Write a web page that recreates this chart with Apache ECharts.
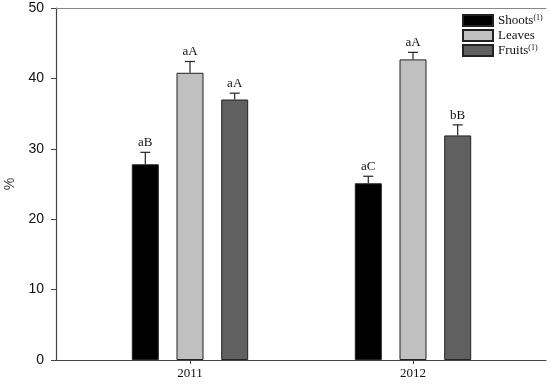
<!DOCTYPE html>
<html>
<head>
<meta charset="utf-8">
<script src="https://cdn.jsdelivr.net/npm/echarts@6/dist/echarts.min.js"></script>
<style>html,body{margin:0;padding:0;background:#fff}#c{width:550px;height:385px}</style>
</head>
<body>
<div id="c"></div>
<script>
var years = ['2011', '2012'];
var seriesNames = ['Shoots', 'Leaves', 'Fruits'];
var shoots = [27.8, 25.1];
var leaves = [40.8, 42.7];
var fruits = [37.0, 31.9];
var shootsErr = [1.7, 1.0];
var leavesErr = [1.6, 1.0];
var fruitsErr = [0.9, 1.5];
var shootsLetters = ['aB', 'aC'];
var leavesLetters = ['aA', 'aA'];
var fruitsLetters = ['aA', 'bB'];
var yTicks = [0, 10, 20, 30, 40, 50];

var values = [shoots, leaves, fruits];
var errs = [shootsErr, leavesErr, fruitsErr];
var letters = [shootsLetters, leavesLetters, fruitsLetters];
var colors = ['#000000', '#c0c0c0', '#606060'];
var BAR_W = 27, BAR_GAP = 17.7;
var SERIF = '"Liberation Serif", "Times New Roman", serif';
var SANS = '"Liberation Sans", Arial, sans-serif';

var chart = echarts.init(document.getElementById('c'), null, {renderer: 'canvas'});

var series = [];
seriesNames.forEach(function (name, s) {
  series.push({
    name: name,
    type: 'bar',
    xAxisIndex: 2,
    yAxisIndex: 1,
    barWidth: BAR_W,
    barGap: (BAR_GAP / BAR_W * 100) + '%',
    data: values[s],
    itemStyle: {color: colors[s], borderColor: '#222', borderWidth: 1},
    emphasis: {disabled: true},
    z: 2
  });
});
seriesNames.forEach(function (name, s) {
  series.push({
    type: 'custom',
    xAxisIndex: 2,
    yAxisIndex: 1,
    data: values[s].map(function (v, i) { return [i, v, errs[s][i]]; }),
    renderItem: function (params, api) {
      var i = api.value(0), v = api.value(1), e = api.value(2);
      var off = (s - 1) * (BAR_W + BAR_GAP);
      var p0 = api.coord([i, v]);
      var p1 = api.coord([i, v + e]);
      var x = p0[0] + off;
      return {
        type: 'group',
        children: [
          {type: 'line', shape: {x1: x, y1: p0[1], x2: x, y2: p1[1]}, style: {stroke: '#222', lineWidth: 1.2}},
          {type: 'line', shape: {x1: x - 5, y1: p1[1], x2: x + 5, y2: p1[1]}, style: {stroke: '#222', lineWidth: 1.2}},
          {type: 'text', x: x, y: p1[1] - 3, style: {text: letters[s][i], textAlign: 'center', textVerticalAlign: 'bottom', font: '13px ' + SERIF, fill: '#111'}}
        ]
      };
    },
    z: 3
  });
});

chart.setOption({
  animation: false,
  backgroundColor: '#fff',
  grid: [
    {left: 56, right: 4, top: 8, bottom: 25, containLabel: false, outerBoundsMode: 'none'},
    {left: 78.5, right: 25.5, top: 8, bottom: 25, containLabel: false, outerBoundsMode: 'none'}
  ],
  legend: {
    orient: 'vertical',
    left: 457,
    top: 9,
    itemWidth: 30,
    itemHeight: 11,
    itemGap: 2,
    icon: 'rect',
    data: seriesNames,
    formatter: function (n) { return n === 'Leaves' ? '{a|' + n + '}' : '{a|' + n + '}{s|(1)}'; },
    textStyle: {
      fontFamily: SERIF, fontSize: 13, color: '#111', lineHeight: 13,
      rich: {
        a: {fontFamily: SERIF, fontSize: 13, color: '#111', lineHeight: 13},
        s: {fontFamily: SERIF, fontSize: 8, color: '#111', verticalAlign: 'top', lineHeight: 13, padding: [0, 0, 4, 0]}
      }
    }
  },
  xAxis: [
    {gridIndex: 0, type: 'value', min: 0, max: 1, position: 'bottom',
      axisLine: {show: true, lineStyle: {color: '#444', width: 1.2}},
      axisTick: {show: false}, axisLabel: {show: false}, splitLine: {show: false}},
    {gridIndex: 0, type: 'value', min: 0, max: 1, position: 'top',
      axisLine: {show: true, lineStyle: {color: '#888', width: 1}},
      axisTick: {show: false}, axisLabel: {show: false}, splitLine: {show: false}},
    {gridIndex: 1, type: 'category', data: years, position: 'bottom',
      axisLine: {show: false},
      axisTick: {show: true, alignWithLabel: true, length: 4, inside: false, lineStyle: {color: '#444'}},
      axisLabel: {fontFamily: SERIF, fontSize: 13, color: '#111', margin: 7},
      splitLine: {show: false}}
  ],
  yAxis: [
    {gridIndex: 0, type: 'value', min: 0, max: 50, interval: 10,
      name: '%', nameLocation: 'middle', nameGap: 38, nameRotate: 90,
      nameTextStyle: {fontFamily: SANS, fontSize: 14, color: '#444'},
      axisLine: {show: true, lineStyle: {color: '#444', width: 1.2}},
      axisTick: {show: true, length: 5, lineStyle: {color: '#444'}},
      axisLabel: {fontFamily: SANS, fontSize: 14, color: '#111', margin: 12,
        formatter: function (v) { return yTicks.indexOf(v) >= 0 ? String(v) : ''; }},
      splitLine: {show: false}},
    {gridIndex: 1, type: 'value', min: 0, max: 50, interval: 10, show: false}
  ],
  series: series
});
</script>
</body>
</html>
